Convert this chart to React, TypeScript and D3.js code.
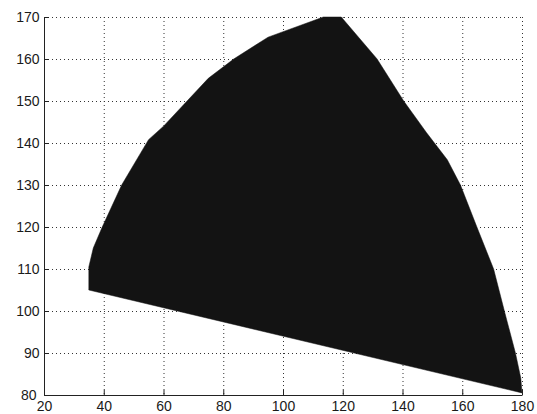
import React, { useEffect, useRef } from 'react';
import * as d3 from 'd3';

// outline of the filled region (x, y)
const regionX = [35, 35, 36.5, 39.5, 46, 55, 60, 75, 83.5, 95, 113.5, 119.5, 131.5, 140.4, 148, 155, 159.4, 164.9, 170.5, 174.1, 177.8, 179.6, 180];
const regionY = [105, 110.5, 115, 120, 130, 140.8, 144, 155.4, 160, 165.2, 170, 170, 160, 150, 142.5, 136, 130, 120, 110, 100, 90, 84, 80.5];

const xTicks = [20, 40, 60, 80, 100, 120, 140, 160, 180];
const yTicks = [80, 90, 100, 110, 120, 130, 140, 150, 160, 170];

const App = () => {
  const svgRef = useRef<SVGSVGElement>(null);

  useEffect(() => {
    const svg = d3.select(svgRef.current);
    svg.selectAll('*').remove();
    const width = 537;
    const height = 414;
    const margin = { top: 17, right: 15, bottom: 19, left: 44 };
    const innerWidth = width - margin.left - margin.right;
    const innerHeight = height - margin.top - margin.bottom;

    const x = d3.scaleLinear().domain([20, 180]).range([0, innerWidth]);
    const y = d3.scaleLinear().domain([80, 170]).range([innerHeight, 0]);

    const g = svg.append('g')
      .attr('transform', `translate(${margin.left},${margin.top})`);

    // dotted grid
    g.selectAll('.vgrid')
      .data(xTicks.slice(1))
      .enter().append('line')
      .attr('x1', d => x(d) + 0.5).attr('x2', d => x(d) + 0.5)
      .attr('y1', 0).attr('y2', innerHeight)
      .attr('stroke', '#333')
      .attr('stroke-dasharray', '1,3');

    g.selectAll('.hgrid')
      .data(yTicks.slice(1))
      .enter().append('line')
      .attr('y1', d => y(d) + 0.5).attr('y2', d => y(d) + 0.5)
      .attr('x1', 0).attr('x2', innerWidth)
      .attr('stroke', '#333')
      .attr('stroke-dasharray', '1,3');

    const pts: [number, number][] = regionX.map((d, i) => [d, regionY[i]]);
    const line = d3.line<[number, number]>()
      .x(d => x(d[0]))
      .y(d => y(d[1]));

    g.append('path')
      .attr('d', line(pts) + 'Z')
      .attr('fill', '#131313')
      .attr('stroke', '#131313')
      .attr('stroke-width', 0.5);

    const xAxis = d3.axisBottom(x)
      .tickValues(xTicks)
      .tickSizeInner(-5)
      .tickSizeOuter(0)
      .tickPadding(6.5);

    const yAxis = d3.axisLeft(y)
      .tickValues(yTicks)
      .tickSizeInner(-5)
      .tickSizeOuter(0)
      .tickPadding(4.5);

    const xa = g.append('g')
      .attr('transform', `translate(0,${innerHeight})`)
      .call(xAxis);

    const ya = g.append('g').call(yAxis);

    [xa, ya].forEach(a => {
      a.selectAll('text')
        .attr('fill', '#1a1a1a')
        .style('font-family', 'Liberation Sans, Arial, sans-serif')
        .style('font-size', '14px');
      a.selectAll('line').attr('stroke', '#222');
      a.select('.domain').attr('stroke', '#222');
    });

    // the bottom y label is nudged left in the original
    ya.selectAll('.tick text')
      .filter(d => d === 80)
      .attr('dx', '-3');
  }, []);

  return (
    <svg
      ref={svgRef}
      width={537}
      height={414}
      style={{ position: 'absolute', left: 0, top: 0, background: '#fff' }}
    ></svg>
  );
};

export default App;
